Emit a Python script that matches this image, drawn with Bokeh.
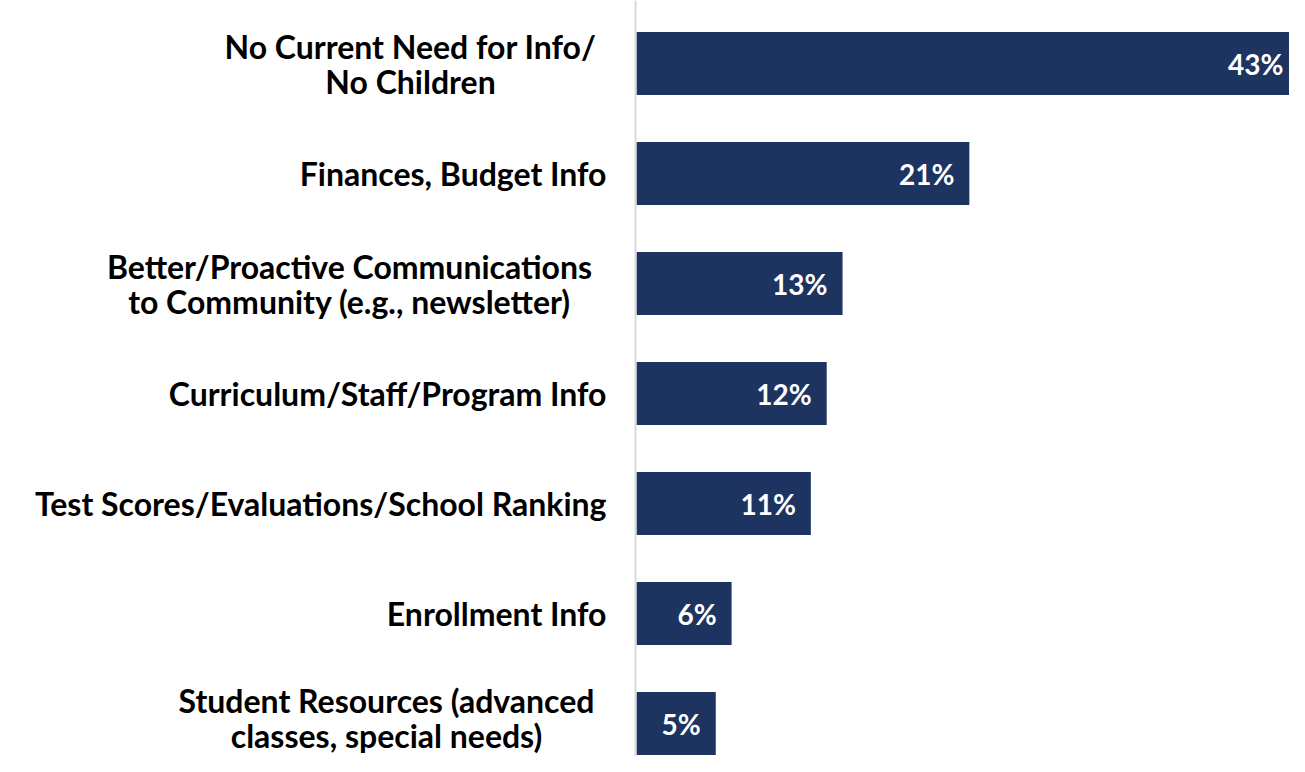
from bokeh.plotting import figure
from bokeh.models import Range1d, Span, ColumnDataSource
from bokeh.core.properties import value
from bokeh.embed import file_html
from bokeh.resources import INLINE

# ---- data ----
categories = [
    "No Current Need for Info/\nNo Children",
    "Finances, Budget Info",
    "Better/Proactive Communications\nto Community (e.g., newsletter)",
    "Curriculum/Staff/Program Info",
    "Test Scores/Evaluations/School Ranking",
    "Enrollment Info",
    "Student Resources (advanced\nclasses, special needs)",
]
values = [43, 21, 13, 12, 11, 6, 5]
value_labels = ["43%", "21%", "13%", "12%", "11%", "6%", "5%"]

# ---- layout constants ----
W, H = 1289, 756
PX_PER_PCT = 15.85
AXIS_X = 636          # pixel column where bars start
ROW = 110             # px between bar centres
FIRST = 63            # px from top to first bar centre
LABEL_GAP = 30        # px between label right edge and axis
LINE_GAP = 35         # px between lines of a two-line label
# centre offsets (px from axis) and vertical nudges (px, negative = up) of two-line blocks
BLOCK_CENTER = {0: -226, 2: -287, 6: -250}
BLOCK_DY = {0: 0, 2: 0, 6: -6}

BAR_COLOR = "#1D3360"
FONT = "Lato"
FSIZE = "32px"
VSIZE = "28px"

x_start = -AXIS_X / PX_PER_PCT
x_end = (W - AXIS_X) / PX_PER_PCT
y_top = -FIRST / ROW
y_bottom = (H - FIRST) / ROW

p = figure(width=W, height=H,
           x_range=Range1d(x_start, x_end), y_range=Range1d(y_bottom, y_top),
           output_backend="svg", toolbar_location=None,
           x_axis_location=None, y_axis_location=None,
           min_border=0, min_border_left=0, min_border_right=0,
           min_border_top=0, min_border_bottom=0)
p.grid.visible = False
p.outline_line_color = None
p.background_fill_color = "white"
p.border_fill_color = "white"

# axis line
p.add_layout(Span(location=-1 / PX_PER_PCT, dimension="height",
                  line_color="#D9D9D9", line_width=2))

idx = list(range(len(categories)))
lx = [min(v, x_end) for v in values]
lxo = [-15 if v <= x_end else -6 for v in values]
bars = ColumnDataSource(dict(y=idx, right=values, lab=value_labels, lx=lx, lxo=lxo))
p.hbar(y="y", left=0, right="right", height=0.573, source=bars,
       fill_color=BAR_COLOR, line_color=None)

p.text(x="lx", y="y", text="lab", source=bars, x_offset="lxo",
       text_align="right", text_baseline="middle", text_color="white",
       text_font=value(FONT), text_font_style="bold", text_font_size=VSIZE)

# category labels
r_y, r_t = [], []
c_y, c_t, c_xo, c_yo = [], [], [], []
for i, cat in enumerate(categories):
    lines = cat.split("\n")
    if len(lines) == 1:
        r_y.append(i); r_t.append(lines[0])
    else:
        n = len(lines)
        for j, ln in enumerate(lines):
            c_y.append(i); c_t.append(ln)
            c_xo.append(BLOCK_CENTER[i])
            # y_offset is in screen px: positive moves text down
            c_yo.append((j - (n - 1) / 2) * LINE_GAP + BLOCK_DY[i])

p.text(x=0, y="y", text="t", source=ColumnDataSource(dict(y=r_y, t=r_t)),
       x_offset=-LABEL_GAP, text_align="right", text_baseline="middle",
       text_color="black", text_font=value(FONT), text_font_style="bold",
       text_font_size=FSIZE)
p.text(x=0, y="y", text="t", source=ColumnDataSource(dict(y=c_y, t=c_t, xo=c_xo, yo=c_yo)),
       x_offset="xo", y_offset="yo", text_align="center", text_baseline="middle",
       text_color="black", text_font=value(FONT), text_font_style="bold",
       text_font_size=FSIZE)

open("out.html", "w").write(file_html(p, INLINE))
